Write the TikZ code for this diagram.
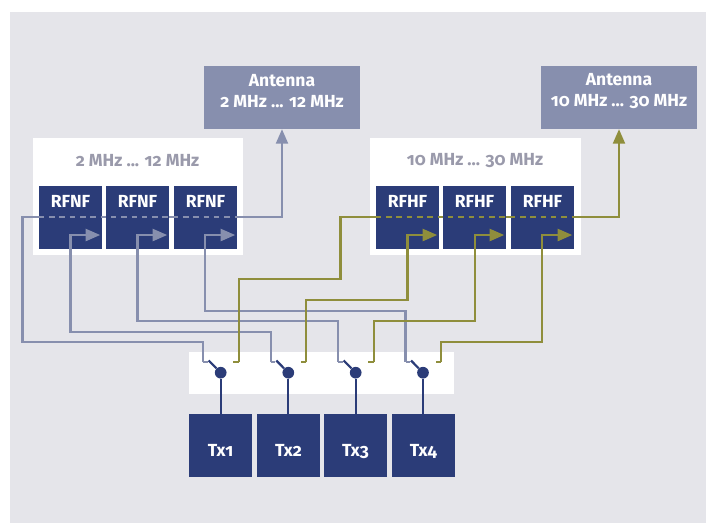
\documentclass[tikz,border=0pt]{standalone}
\usepackage{fontspec}
\setmainfont[Numbers=OldStyle]{Fira Sans}
\usetikzlibrary{arrows.meta}
\definecolor{bgpanel}{HTML}{E5E5EA}
\definecolor{navy}{HTML}{2B3C78}
\definecolor{slate}{HTML}{878FAE}
\definecolor{olive}{HTML}{8F8E3C}
\definecolor{rangetxt}{HTML}{9A9AAB}
\begin{document}
\begin{tikzpicture}[x=1pt, y=-1pt, font=\bfseries\fontsize{17.5}{21}\selectfont,
          >={Triangle[length=14.5pt, width=12pt]},
          panel/.style={fill=white, inner sep=0pt, minimum height=117pt},
          rf/.style={fill=navy, text=white, minimum width=63pt, minimum height=63pt, inner sep=0pt, text depth=32pt, text height=12pt},
          tx/.style={fill=navy, text=white, minimum width=63pt, minimum height=63pt, inner sep=0pt, text depth=0pt, text height=21pt},
          ant/.style={fill=slate, minimum width=156pt, minimum height=63pt, inner sep=0pt},
          anttxt/.style={text=white, align=center, inner sep=0pt},
          knob/.style={circle, fill=navy, minimum size=11.7pt, inner sep=0pt},
          wire/.style={line width=2.2pt},
          wirea/.style={wire, slate},
          wireb/.style={wire, olive},
          gapline/.style={dash pattern=on 5.5pt off 4.8pt},
          link/.style={line width=2.2pt, navy}]
        \useasboundingbox (0,0) rectangle (710,523);
        \fill[bgpanel] (10,12) rectangle (706,523);
        \node[panel, minimum width=210pt] (bandl) at (138,196.5) {};
        \node[panel, minimum width=211pt] (bandh) at (475,196.5) {};
        \node[fill=white, minimum width=265pt, minimum height=42pt, inner sep=0pt] (strip) at (321.5,373) {};
        \node[text=rangetxt] (rangel) at (137.5,160.5) {2 MHz ... 12 MHz};
        \node[text=rangetxt] (rangeh) at (475,160.5) {10 MHz ... 30 MHz};
        \node[ant] (antl) at (282,97.5) {};
        \node[ant] (anth) at (619,97.5) {};
        \node[anttxt] (antltxt) at (282,91.5) {Antenna\\2 MHz ... 12 MHz};
        \node[anttxt] (anthtxt) at (619,91.5) {Antenna\\10 MHz ... 30 MHz};
        % switch terminals, a = slate side and b = olive side
        \foreach \i/\xk in {1/220.7, 2/288.3, 3/355.7, 4/423} {
          \node[knob] (sw\i) at (\xk,372.7) {};
          \coordinate (a\i) at (\xk-17.5,361.7);
          \coordinate (b\i) at (\xk+18,361.7);
          \coordinate (c\i) at (\xk-12,360.5);
        }
        % long slate run sits under the boxes
        \coordinate (turnl) at (22.5,217.3);
        \coordinate (turnh) at (340.5,217.3);
        \coordinate (ca) at (22.5,341.7);
        \coordinate (cb) at (340.5,279.3);
        \draw[wirea] (a1) -- ++(4.5,0);
        \draw[wirea, ->] (a1) |- (ca) -- (turnl) -| (antl.south);
        \foreach \i/\xl in {0/39, 1/106, 2/174} {
          \node[rf] (rfnf\i) at (\xl+31.5,217.5) {RFNF};
        }
        \draw[wirea, gapline] (rfnf0.west |- turnl) -- (rfnf2.east |- turnl);
        % short arrows end just inside the boxes
        \foreach \i/\j/\xs/\ys in {2/0/70.5/331.7, 3/1/137.5/321, 4/2/205.3/310.7} {
          \coordinate (da\i) at (\xs,\ys);
          \coordinate (ea\i) at (\xs,235);
          \draw[wirea] (a\i) -- ++(4.5,0);
          \draw[wirea, ->, shorten >=2pt] (a\i) |- (da\i) -- (ea\i) -- (ea\i -| rfnf\j.east);
        }
        \draw[wireb] (b1) -- ++(-5.4,0);
        \draw[wireb, ->] (b1) |- (cb) -- (turnh) -| (anth.south);
        \foreach \i/\xl in {0/376, 1/443, 2/511} {
          \node[rf] (rfhf\i) at (\xl+31.5,217.5) {RFHF};
        }
        \draw[wireb, gapline] (rfhf0.west |- turnh) -- (rfhf2.east |- turnh);
        \foreach \i/\j/\xs/\ys in {2/0/407.5/300, 3/1/475/321, 4/2/542/341.7} {
          \coordinate (db\i) at (\xs,\ys);
          \coordinate (eb\i) at (\xs,235);
          \draw[wireb] (b\i) -- ++(-5.4,0);
          \draw[wireb, ->, shorten >=2pt] (b\i) |- (db\i) -- (eb\i) -- (eb\i -| rfhf\j.east);
        }
        % transmitters
        \foreach \i/\xl in {1/189, 2/257, 3/324, 4/392} {
          \node[tx] (tx\i) at (\xl+31.5,445.5) {Tx\i};
          \draw[link] (tx\i.north -| sw\i) -- (sw\i);
          \draw[link] (sw\i) -- (c\i);
        }
      \end{tikzpicture}
\end{document}
